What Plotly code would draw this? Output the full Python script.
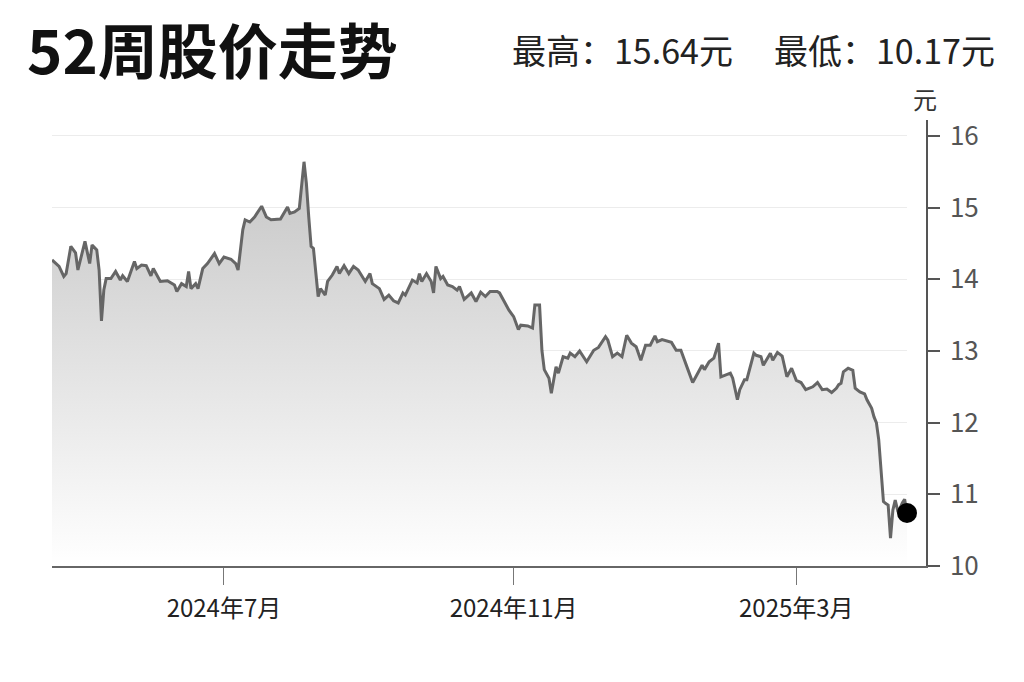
import plotly.graph_objects as go

# 52-week daily closes
dates = (
    ["2024-04-%02d" % d for d in (19, 22, 24, 25, 27, 29, 30)]
    + ["2024-05-%02d" % d for d in (2, 3, 5, 6, 8, 9, 10, 11, 12, 14, 16, 18, 19, 21, 24, 25, 27, 29, 31)]
    + ["2024-06-%02d" % d for d in (1, 4, 7, 10, 11, 13, 15, 16, 17, 19, 20, 22, 24, 27, 29)]
    + ["2024-07-%02d" % d for d in (1, 4, 6, 7, 9, 10, 12, 14, 17, 19, 21, 25, 28, 29, 31)]
    + ["2024-08-%02d" % d for d in (2, 4, 5, 6, 7, 8, 10, 11, 13, 14, 16, 18, 19, 21, 23, 25, 27, 30)]
    + ["2024-09-%02d" % d for d in (1, 2, 5, 7, 9, 11, 13, 15, 16, 19, 21, 22, 23, 25, 27, 28, 29)]
    + ["2024-10-%02d" % d for d in (1, 2, 4, 6, 8, 9, 11, 14, 16, 18, 20, 22, 25, 26, 28, 30)]
    + ["2024-11-%02d" % d for d in (1, 3, 4, 7, 9, 10, 12, 13, 14, 16, 17, 19, 20, 22, 24, 25, 27, 29)]
    + ["2024-12-%02d" % d for d in (2, 5, 7, 10, 11, 13, 15, 17, 19, 21, 23, 25, 27, 29, 31)]
    + ["2025-01-%02d" % d for d in (1, 3, 5, 7, 9, 11, 14, 16, 17, 20, 21, 23, 25, 27, 28, 30)]
    + ["2025-02-%02d" % d for d in (1, 2, 4, 5, 7, 8, 11, 12, 14, 15, 18, 19, 21, 23, 25, 27)]
    + ["2025-03-%02d" % d for d in (1, 3, 5, 8, 10, 12, 14, 16, 18, 19, 20, 21, 23, 25, 26, 28, 30, 31)]
    + ["2025-04-%02d" % d for d in (2, 3, 4, 5, 6, 7, 8, 9, 10, 11, 12, 13, 14, 15, 16, 17)]
)

close = [
    14.27, 14.18, 14.04, 14.08, 14.46, 14.37, 14.13,
    14.41, 14.53, 14.22, 14.48, 14.41, 14.13, 13.42, 13.85, 14.01, 14.01, 14.11, 13.99, 14.05, 13.97,
    14.25, 14.15, 14.20, 14.19, 14.05,
    14.15, 13.97, 13.98, 13.92, 13.83, 13.94, 13.90, 14.11, 13.87, 13.94, 13.87, 14.15, 14.22, 14.36, 14.22,
    14.31, 14.28, 14.22, 14.13, 14.69, 14.83, 14.80, 14.87, 15.02, 14.87, 14.83, 14.84, 15.01, 14.92, 14.94,
    14.99, 15.64, 15.34, 14.87, 14.46, 14.43, 13.76, 13.87, 13.78, 13.97, 14.06, 14.18, 14.08, 14.19,
    14.08, 14.18, 14.13, 13.97,
    14.08, 13.94, 13.87, 13.72, 13.78, 13.70, 13.67, 13.81, 13.78, 13.99, 13.95, 14.08, 13.97, 14.08,
    13.97, 13.81, 14.18,
    14.01, 14.04, 13.92, 13.90, 13.85, 13.90, 13.72, 13.81, 13.69, 13.82, 13.76, 13.83, 13.83, 13.81,
    13.69, 13.57,
    13.48, 13.30, 13.36, 13.35, 13.32, 13.64, 13.64, 13.01, 12.74, 12.62, 12.41, 12.78, 12.69, 12.92,
    12.90, 12.97, 12.92, 13.00,
    12.85, 13.01, 13.05, 13.20, 13.15, 12.92, 12.97, 12.92, 13.22, 13.11, 13.06, 12.87, 13.08, 13.08, 13.21,
    13.13, 13.16, 13.14, 13.12, 13.01, 13.01, 12.74, 12.56, 12.62, 12.80, 12.74, 12.85, 12.90, 13.11,
    12.64, 12.67,
    12.69, 12.62, 12.32, 12.46, 12.60, 12.60, 12.97, 12.94, 12.92, 12.80, 12.97, 12.87, 12.98, 12.93,
    12.64, 12.76,
    12.59, 12.56, 12.46, 12.50, 12.56, 12.46, 12.47, 12.42, 12.48, 12.53, 12.55, 12.71, 12.76, 12.73,
    12.48, 12.43, 12.40, 12.32,
    12.20, 12.08, 12.00, 11.76, 11.29, 10.90, 10.87, 10.85, 10.39, 10.78, 10.92, 10.78, 10.80, 10.88,
    10.93, 10.74,
]

high_52w = 15.64
low_52w = 10.17

tick_dates = ["2024-07-01", "2024-11-01", "2025-03-01"]
tick_labels = ["2024年7月", "2024年11月", "2025年3月"]

W, H = 1024, 682
L, R, T, B = 52, 98, 120, 116
FONT = "Noto Sans CJK SC"


def px_x(px):
    # page pixel -> paper fraction
    return (px - L) / (W - L - R)


def px_y(py):
    return (H - B - py) / (H - T - B)


fig = go.Figure()

fig.add_trace(go.Scatter(
    x=dates, y=close, mode="lines",
    line=dict(color="#666666", width=3),
    fill="tozeroy",
    fillgradient=dict(type="vertical", start=10, stop=high_52w,
                      colorscale=[[0, "rgb(255,255,255)"], [1, "rgb(198,198,198)"]]),
    hoverinfo="skip", showlegend=False,
))

# last close marker
fig.add_trace(go.Scatter(
    x=[dates[-1]], y=[close[-1]], mode="markers",
    marker=dict(color="#000000", size=20),
    cliponaxis=False, hoverinfo="skip", showlegend=False,
))

# empty trace for the frame subplot (bottom line + right axis)
fig.add_trace(go.Scatter(x=[], y=[], xaxis="x2", yaxis="y2", showlegend=False))

yrange = [10, 16.223]

fig.update_layout(
    width=W, height=H,
    margin=dict(l=L, r=R, t=T, b=B, pad=0),
    paper_bgcolor="white",
    plot_bgcolor="rgba(0,0,0,0)",
    font=dict(family=FONT, color="#333"),
    hovermode=False,
    xaxis=dict(
        domain=[0, px_x(907)], anchor="y", type="date",
        range=["2024-04-19", "2025-04-17"],
        showline=False, showgrid=False, zeroline=False,
        ticks="outside", ticklen=18, tickwidth=1.2, tickcolor="#777",
        tickvals=tick_dates, ticktext=tick_labels,
        tickfont=dict(family=FONT, size=24, color="#222"),
        ticklabelstandoff=3,
    ),
    yaxis=dict(
        domain=[0, 1], anchor="x", range=yrange,
        tick0=10, dtick=1,
        showgrid=True, gridcolor="#ececec", gridwidth=1,
        showticklabels=False, ticks="", showline=False, zeroline=False,
    ),
    xaxis2=dict(
        domain=[0, 1], anchor="y2", range=[0, 1],
        showline=True, linecolor="#666", linewidth=2,
        showgrid=False, zeroline=False, showticklabels=False, ticks="",
    ),
    yaxis2=dict(
        domain=[0, 1], anchor="x2", side="right", range=yrange,
        tick0=10, dtick=1,
        showgrid=False, zeroline=False,
        showline=True, linecolor="#555", linewidth=1.5,
        ticks="outside", ticklen=12, tickwidth=1.5, tickcolor="#555",
        tickfont=dict(family=FONT, size=26, color="#555"),
        ticklabelstandoff=5,
    ),
)

fig.add_annotation(
    text="52周股价走势", x=px_x(25), y=px_y(47), height=66,
    xref="paper", yref="paper", xanchor="left", yanchor="middle", showarrow=False,
    font=dict(family=FONT, size=60, color="#111", weight="bold"),
)
fig.add_annotation(
    text=f"最高：{high_52w:.2f}元", x=px_x(735), y=px_y(49),
    xref="paper", yref="paper", xanchor="right", yanchor="middle", showarrow=False,
    font=dict(family=FONT, size=34, color="#222"),
)
fig.add_annotation(
    text=f"最低：{low_52w:.2f}元", x=px_x(997), y=px_y(49),
    xref="paper", yref="paper", xanchor="right", yanchor="middle", showarrow=False,
    font=dict(family=FONT, size=34, color="#222"),
)
fig.add_annotation(
    text="元", x=px_x(925), y=px_y(99),
    xref="paper", yref="paper", xanchor="center", yanchor="middle", showarrow=False,
    font=dict(family=FONT, size=24, color="#333"),
)

# drop the default 8px body margin so the figure sits flush in the window
fig.write_html(
    "out.html",
    config={"displayModeBar": False},
    post_script="document.body.style.margin = '0';",
)
